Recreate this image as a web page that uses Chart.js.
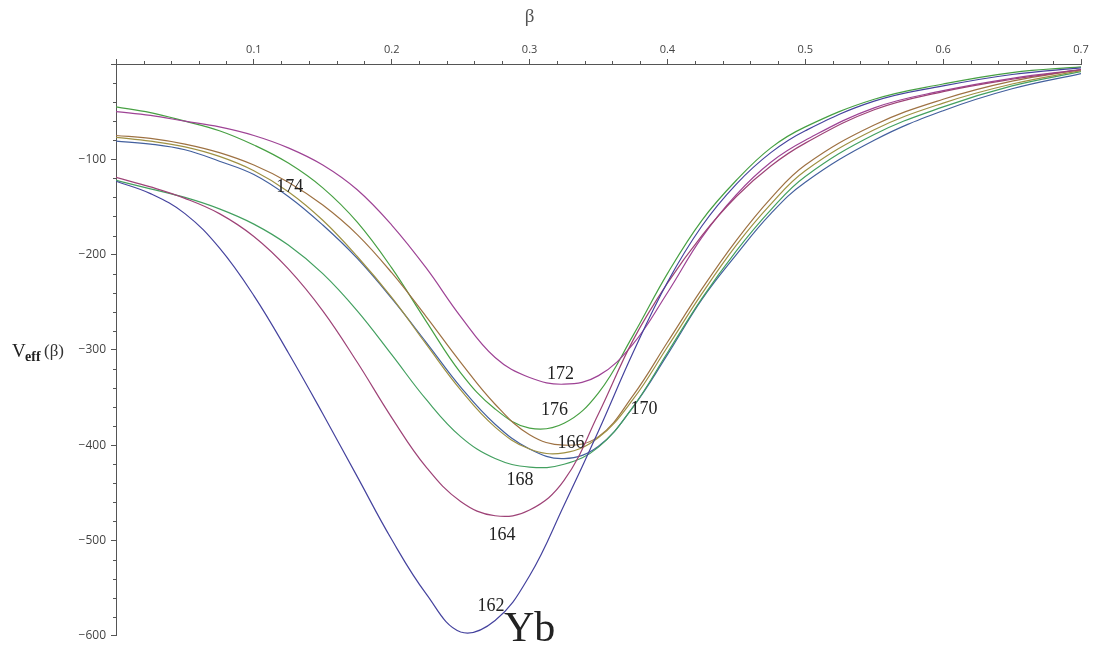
<!DOCTYPE html>
<html>
<head>
<meta charset="utf-8">
<title>Veff(beta) Yb</title>
<script src="https://cdn.jsdelivr.net/npm/chart.js@4.4.1/dist/chart.umd.min.js"></script>
<style>
  body { margin: 0; background: #fff; }
  #wrap { width: 1101px; height: 648px; }
</style>
</head>
<body>
<div id="wrap"><canvas id="grafico" width="1101" height="648"></canvas></div>
<script>
// beta values (x)
const beta = [0, 0.025, 0.05, 0.075, 0.1, 0.125, 0.15, 0.175, 0.2, 0.225, 0.25, 0.275, 0.3,
  0.325, 0.35, 0.375, 0.4, 0.425, 0.45, 0.475, 0.5, 0.55, 0.6, 0.65, 0.7]

// Veff(beta) for each Yb isotope
const v162 = [-123, -136, -157, -193, -243, -303, -367, -433, -499, -556, -596, -584, -537,
  -463, -385, -303, -229, -170, -126, -93, -70, -39, -23, -11, -4]
const v164 = [-119, -129, -141, -157, -181, -215, -259, -313, -371, -423, -459, -474, -468,
  -437, -367, -290, -230, -180, -139, -107, -83, -48, -29, -16, -6]
const v166 = [-77, -81, -87, -97, -112, -134, -164, -202, -245, -294, -342, -381, -404,
  -408, -392, -352, -297, -241, -190, -147, -112, -69, -41, -21, -7]
const v168 = [-122, -131, -140, -152, -168, -190, -220, -259, -305, -352, -391, -414, -423,
  -420, -402, -360, -303, -246, -196, -153, -118, -74, -45, -23, -8]
const v170 = [-81, -84, -90, -102, -116, -139, -169, -204, -246, -292, -339, -378, -404,
  -414, -401, -360, -305, -247, -200, -157, -124, -80, -49, -26, -10]
const v172 = [-50, -54, -60, -66, -75, -88, -106, -132, -169, -214, -265, -308, -329,
  -336, -327, -294, -240, -182, -137, -103, -80, -46, -28, -15, -6]
const v174 = [-75, -78, -84, -93, -106, -124, -148, -179, -219, -265, -313, -357, -389,
  -400, -391, -348, -292, -236, -185, -141, -106, -64, -37, -18, -6]
const v176 = [-45, -51, -60, -70, -85, -104, -130, -166, -214, -270, -324, -362, -382,
  -377, -345, -285, -220, -164, -122, -88, -66, -37, -21, -9, -3]

const isotopos = ['162', '164', '166', '168', '170', '172', '174', '176']
const series = [v162, v164, v166, v168, v170, v172, v174, v176]
// old Mathematica default plot colours
const colores = ['#45439e', '#9e4377', '#9e9143', '#43a060', '#43609e', '#9e4395', '#9e7243', '#47a043']

// curve labels (beta, V)
const etiquetas = ['174', '172', '176', '166', '170', '168', '164', '162']
const etqBeta = [0.126, 0.3225, 0.318, 0.330, 0.383, 0.293, 0.280, 0.272]
const etqV = [-129, -326, -363, -398, -362, -437, -494, -569]

const datasets = series.map((vals, i) => ({
  label: isotopos[i],
  data: beta.map((b, j) => ({ x: b, y: vals[j] })),
  borderColor: colores[i],
  borderWidth: 1.2,
  pointRadius: 0,
  fill: false,
  tension: 0.4
}))

const ejeColor = '#555'

// minor ticks, titles and curve labels
const extras = {
  id: 'extras',
  afterDraw(chart) {
    const ctx = chart.ctx
    const x = chart.scales.x
    const y = chart.scales.y
    const area = chart.chartArea
    ctx.save()
    ctx.strokeStyle = ejeColor
    ctx.lineWidth = 1
    ctx.beginPath()
    for (let i = 1; i < 35; i++) {
      if (i % 5 === 0) continue
      const px = Math.round(x.getPixelForValue(i * 0.02)) + 0.5
      ctx.moveTo(px, area.top)
      ctx.lineTo(px, area.top - 3)
    }
    for (let i = 1; i < 30; i++) {
      if (i % 5 === 0) continue
      const py = Math.round(y.getPixelForValue(-i * 20)) + 0.5
      ctx.moveTo(area.left, py)
      ctx.lineTo(area.left - 3, py)
    }
    ctx.stroke()

    // axis titles
    ctx.fillStyle = '#555'
    ctx.textAlign = 'center'
    ctx.textBaseline = 'alphabetic'
    ctx.font = '19px "Liberation Serif"'
    ctx.fillText('β', x.getPixelForValue(0.3), 22)

    const ty = y.getPixelForValue(-300)
    ctx.fillStyle = '#222'
    ctx.textAlign = 'left'
    ctx.font = '19px "Liberation Serif"'
    ctx.fillText('V', 12, ty + 7)
    ctx.font = 'bold 14px "Liberation Serif"'
    ctx.fillText('eff', 25, ty + 11)
    ctx.font = '17px "Liberation Serif"'
    ctx.fillStyle = '#333'
    ctx.fillText('(β)', 44, ty + 6)

    // curve labels
    ctx.fillStyle = '#222'
    ctx.textAlign = 'center'
    ctx.textBaseline = 'middle'
    ctx.font = '18px "Liberation Serif"'
    etiquetas.forEach((t, i) => {
      ctx.fillText(t, x.getPixelForValue(etqBeta[i]), y.getPixelForValue(etqV[i]))
    })
    ctx.font = '42px "Liberation Serif"'
    ctx.fillText('Yb', x.getPixelForValue(0.3), y.getPixelForValue(-594))
    ctx.restore()
  }
}

const ctxV = document.getElementById('grafico').getContext('2d')
const chartV = new Chart(ctxV, {
  type: 'line',
  data: { datasets: datasets },
  options: {
    responsive: false,
    animation: false,
    layout: { padding: { left: 0, top: 0, right: 20, bottom: 11 } },
    plugins: {
      legend: { display: false },
      tooltip: { enabled: false }
    },
    scales: {
      x: {
        type: 'linear',
        position: 'top',
        min: 0,
        max: 0.7,
        afterFit: s => { s.height = 64 },
        grid: { display: true, drawOnChartArea: false, drawTicks: true, tickLength: 5, color: ejeColor },
        border: { display: true, color: ejeColor, width: 1 },
        ticks: {
          stepSize: 0.1,
          autoSkip: false,
          maxRotation: 0,
          padding: 3,
          color: '#444',
          font: { family: 'Open Sans', size: 11 },
          callback: v => (Math.abs(v) < 1e-9 ? '' : v.toFixed(1))
        }
      },
      y: {
        type: 'linear',
        position: 'left',
        min: -600,
        max: 0,
        afterFit: s => { s.width = 116 },
        grid: { display: true, drawOnChartArea: false, drawTicks: true, tickLength: 5, color: ejeColor },
        border: { display: true, color: ejeColor, width: 1 },
        ticks: {
          stepSize: 100,
          padding: 5,
          color: '#444',
          font: { family: 'Open Sans', size: 12 },
          callback: v => (v === 0 ? '' : '\u2212' + Math.abs(v))
        }
      }
    }
  },
  plugins: [extras]
})
</script>
</body>
</html>
